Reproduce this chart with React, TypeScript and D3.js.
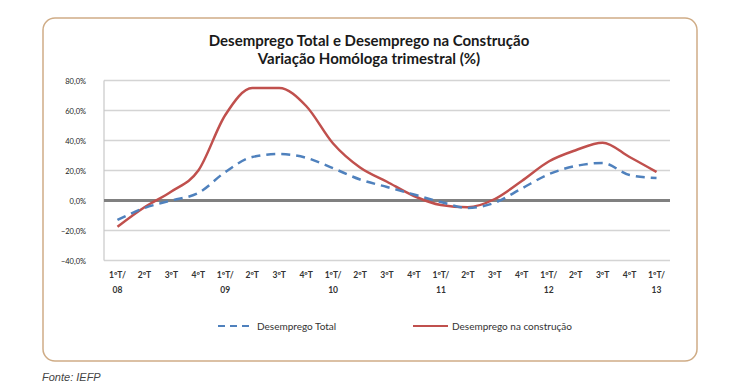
import React, { useRef, useEffect } from 'react';
import * as d3 from 'd3';

const quarters = ['1ºT/|08', '2ºT', '3ºT', '4ºT', '1ºT/|09', '2ºT', '3ºT', '4ºT', '1ºT/|10', '2ºT', '3ºT', '4ºT',
  '1ºT/|11', '2ºT', '3ºT', '4ºT', '1ºT/|12', '2ºT', '3ºT', '4ºT', '1ºT/|13'];
const totalValues = [-13, -5, 0, 5, 19, 29, 31, 28.5, 21.5, 14, 9, 4, -1, -5, -1.5, 8, 17.5, 23, 25, 17, 15];
const constructionValues = [-17.5, -4.5, 6, 20, 57, 75, 75, 63, 38, 22, 12.5, 3, -3, -4.5, 1, 13, 26, 33.5, 38.5, 29, 19];
const yTicks = [80, 60, 40, 20, 0, -20, -40];
const seriesNames = ['Desemprego Total', 'Desemprego na construção'];

function App() {
  const svgRef = useRef(null);

  useEffect(() => {
    const svg = d3.select(svgRef.current);
    svg.selectAll('*').remove();

    const left = 104, right = 670, top = 80.5, bottom = 260.5;
    const x = d3.scaleBand().domain(quarters.map((q, i) => String(i))).range([left, right]);
    const y = d3.scaleLinear().domain([-40, 80]).range([bottom, top]);
    const cx = (i) => x(String(i)) + x.bandwidth() / 2;

    // frame
    svg.append('rect')
      .attr('x', 43).attr('y', 18).attr('width', 654).attr('height', 343)
      .attr('rx', 12).attr('fill', '#fff')
      .attr('stroke', '#cfac86').attr('stroke-width', 1.5);

    // title
    const title = svg.append('text')
      .attr('text-anchor', 'middle')
      .style('font-family', 'Lato, sans-serif')
      .style('font-weight', 'bold')
      .style('font-size', '15px')
      .attr('fill', '#1a1a1a');
    title.append('tspan').attr('x', 369).attr('y', 46).text('Desemprego Total e Desemprego na Construção');
    title.append('tspan').attr('x', 369).attr('y', 64).text('Variação Homóloga trimestral (%)');

    // gridlines
    svg.append('g').selectAll('line')
      .data(yTicks.filter(t => t !== 0))
      .join('line')
      .attr('x1', left).attr('x2', right)
      .attr('y1', d => y(d)).attr('y2', d => y(d))
      .attr('stroke', '#d4d4d4').attr('stroke-width', 1.5);

    svg.append('line')
      .attr('x1', left).attr('x2', left).attr('y1', top).attr('y2', bottom)
      .attr('stroke', '#c8c8c8').attr('stroke-width', 1.2);

    // y labels
    svg.append('g').selectAll('text')
      .data(yTicks)
      .join('text')
      .attr('x', 86).attr('y', d => y(d) + 3)
      .attr('text-anchor', 'end')
      .style('font-family', 'Lato, sans-serif')
      .style('font-size', '7.5px')
      .attr('fill', '#222')
      .text(d => d3.format('.1f')(d).replace('.', ',') + '%');

    // x labels
    const xl = svg.append('g').selectAll('text')
      .data(quarters)
      .join('text')
      .attr('text-anchor', 'middle')
      .style('font-family', 'Lato, sans-serif')
      .style('font-size', '8.5px')
      .style('font-weight', 'bold')
      .attr('fill', '#333');
    xl.each(function (d, i) {
      const parts = d.split('|');
      const t = d3.select(this);
      parts.forEach((p, j) => {
        t.append('tspan').attr('x', cx(i)).attr('y', 278 + j * 15).text(p);
      });
    });

    // zero axis line
    svg.append('line')
      .attr('x1', left).attr('x2', right).attr('y1', y(0)).attr('y2', y(0))
      .attr('stroke', '#808080').attr('stroke-width', 3);

    const line = d3.line()
      .x((d, i) => cx(i))
      .y(d => y(d))
      .curve(d3.curveMonotoneX);

    svg.append('path')
      .datum(constructionValues)
      .attr('d', line)
      .attr('fill', 'none')
      .attr('stroke', '#c0504d')
      .attr('stroke-width', 2.5);

    svg.append('path')
      .datum(totalValues)
      .attr('d', line)
      .attr('fill', 'none')
      .attr('stroke', '#4f81bd')
      .attr('stroke-width', 2.5)
      .attr('stroke-dasharray', '9,6');

    // legend
    const legend = [
      { x: 218, name: seriesNames[0], color: '#4f81bd', dash: '7,5' },
      { x: 413, name: seriesNames[1], color: '#c0504d', dash: null },
    ];
    const lg = svg.append('g').selectAll('g').data(legend).join('g');
    lg.append('line')
      .attr('x1', d => d.x).attr('x2', d => d.x + 35)
      .attr('y1', 326).attr('y2', 326)
      .attr('stroke', d => d.color).attr('stroke-width', 2)
      .attr('stroke-dasharray', d => d.dash);
    lg.append('text')
      .attr('x', d => d.x + 39).attr('y', 329.5)
      .style('font-family', 'Lato, sans-serif')
      .style('font-size', '10px')
      .attr('fill', '#333')
      .text(d => d.name);

    // source
    svg.append('text')
      .attr('x', 42).attr('y', 381)
      .style('font-family', 'Liberation Sans, Arial, sans-serif')
      .style('font-size', '11px')
      .style('font-style', 'italic')
      .attr('fill', '#444')
      .text('Fonte: IEFP');
  }, []);

  return (
    <div>
      <svg ref={svgRef} width={740} height={389}
        style={{ position: 'absolute', left: 0, top: 0, background: '#fff' }}></svg>
    </div>
  );
}

export default App;
